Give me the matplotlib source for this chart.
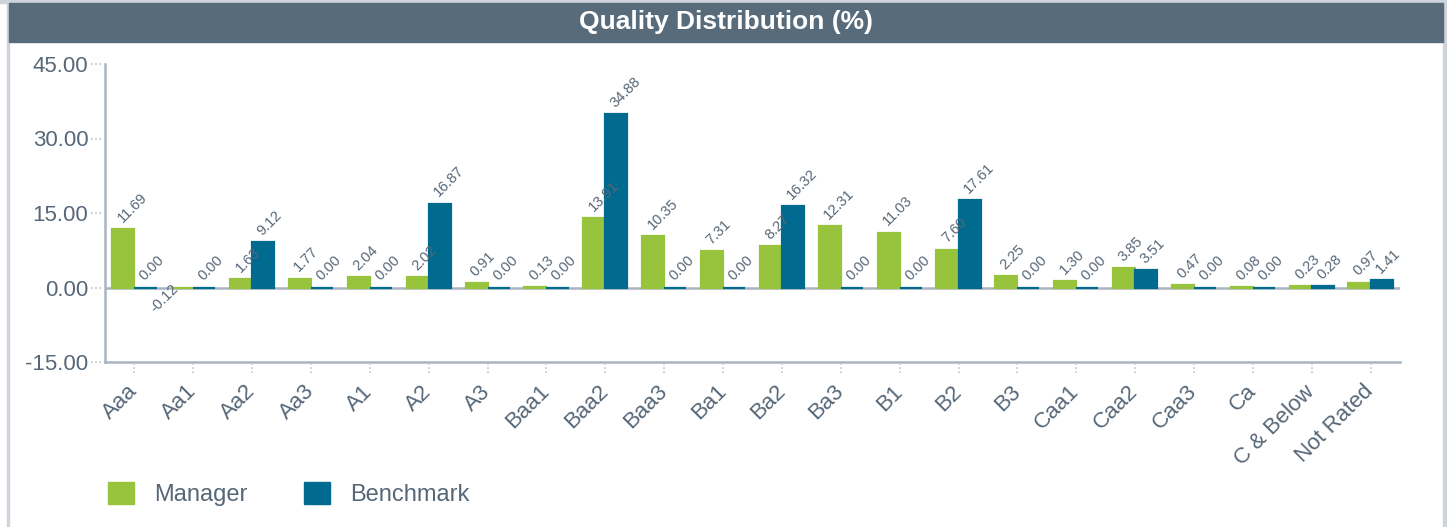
import matplotlib
matplotlib.use('Agg')
import matplotlib.pyplot as plt
import numpy as np
from matplotlib.patches import Rectangle
from matplotlib.transforms import blended_transform_factory

plt.rcParams['font.family'] = ['Liberation Sans', 'DejaVu Sans']

ratings = ['Aaa', 'Aa1', 'Aa2', 'Aa3', 'A1', 'A2', 'A3', 'Baa1', 'Baa2', 'Baa3', 'Ba1',
           'Ba2', 'Ba3', 'B1', 'B2', 'B3', 'Caa1', 'Caa2', 'Caa3', 'Ca', 'C & Below', 'Not Rated']
manager = [11.69, -0.12, 1.63, 1.77, 2.04, 2.02, 0.91, 0.13, 13.91, 10.35, 7.31,
           8.27, 12.31, 11.03, 7.60, 2.25, 1.30, 3.85, 0.47, 0.08, 0.23, 0.97]
benchmark = [0.00, 0.00, 9.12, 0.00, 0.00, 16.87, 0.00, 0.00, 34.88, 0.00, 0.00,
             16.32, 0.00, 0.00, 17.61, 0.00, 0.00, 3.51, 0.00, 0.00, 0.28, 1.41]
yticks = [-15, 0, 15, 30, 45]

GREEN = '#97c43c'
BLUE = '#006a8f'
TEXT = '#566778'
AXIS = '#a9b4c0'

W, H = 1447, 527
fig = plt.figure(figsize=(W / 100, H / 100), dpi=100)

# frame and header bar
fig.patches.append(Rectangle((0, 1 - 3 / H), 1, 3 / H, transform=fig.transFigure,
                             color='#cdd4dc', zorder=0))
fig.patches.append(Rectangle((7 / W, 0), 2 / W, 1, transform=fig.transFigure,
                             color='#cdd4dc', zorder=0))
fig.patches.append(Rectangle((1443 / W, 0), 4 / W, 1, transform=fig.transFigure,
                             color='#cdd4dc', zorder=0))
fig.patches.append(Rectangle((9 / W, 1 - 42 / H), 1434 / W, 39 / H, transform=fig.transFigure,
                             color='#586b7b', zorder=1))
fig.text(726 / W, 1 - 22.5 / H, 'Quality Distribution (%)', color='white', fontsize=19,
         fontweight='bold', ha='center', va='center')

ax = fig.add_axes([105 / W, 1 - 362 / H, 1295 / W, 298 / H])
x = np.arange(len(ratings))
bw = 0.375
ax.axhline(0, color=AXIS, lw=1.8, zorder=1)
b1 = ax.bar(x - bw / 2, manager, bw, color=GREEN, edgecolor=GREEN, linewidth=1.6, zorder=2)
b2 = ax.bar(x + bw / 2, benchmark, bw, color=BLUE, edgecolor=BLUE, linewidth=1.6, zorder=2)

ax.set_xlim(-0.5, len(ratings) - 0.5)
ax.set_ylim(-15, 45)
ax.set_yticks(yticks)
ax.set_yticklabels(['%.2f' % v for v in yticks])
ax.set_xticks(x)
ax.set_xticklabels(ratings, rotation=45, ha='right', va='center', rotation_mode='anchor')
ax.tick_params(axis='x', length=0, pad=19, labelsize=16, labelcolor=TEXT)
ax.tick_params(axis='y', length=0, pad=12, labelsize=16, labelcolor=TEXT)

for s in ['top', 'right']:
    ax.spines[s].set_visible(False)
for s in ['left', 'bottom']:
    ax.spines[s].set_color(AXIS)
    ax.spines[s].set_linewidth(1.8)

# dotted tick marks
xt = blended_transform_factory(ax.transData, ax.transAxes)
ax.vlines(x, -0.037, -0.006, transform=xt, colors='#c4c4c4', linestyles=(0, (1, 1.5)),
          lw=1.2, clip_on=False)
yt = blended_transform_factory(ax.transAxes, ax.transData)
ax.hlines(yticks, -0.011, -0.002, transform=yt, colors='#c4c4c4', linestyles=(0, (1, 1.5)),
          lw=1.2, clip_on=False)

# rotated value labels
for bars, vals in [(b1, manager), (b2, benchmark)]:
    for r, v in zip(bars, vals):
        cx = r.get_x() + r.get_width() / 2
        if v >= 0:
            ax.annotate('%.2f' % v, (cx, v), xytext=(1, 3), textcoords='offset points',
                        rotation=45, rotation_mode='anchor', ha='left', va='bottom',
                        fontsize=10.5, color=TEXT, zorder=4)
        else:
            ax.annotate('%.2f' % v, (cx, v), xytext=(-8, 5), textcoords='offset points',
                        rotation=45, rotation_mode='anchor', ha='right', va='top',
                        fontsize=10.5, color=TEXT, zorder=4)

# legend
handles = [Rectangle((0, 0), 1, 1, color=GREEN), Rectangle((0, 0), 1, 1, color=BLUE)]
fig.legend(handles, ['Manager', 'Benchmark'], loc='center left',
           bbox_to_anchor=(87 / W, 1 - 494 / H), ncol=2, frameon=False, fontsize=17,
           labelcolor=TEXT, handlelength=1.1, handleheight=1.1, handletextpad=0.85,
           columnspacing=2.4)

fig.savefig('out.png', dpi=100)
plt.close()
